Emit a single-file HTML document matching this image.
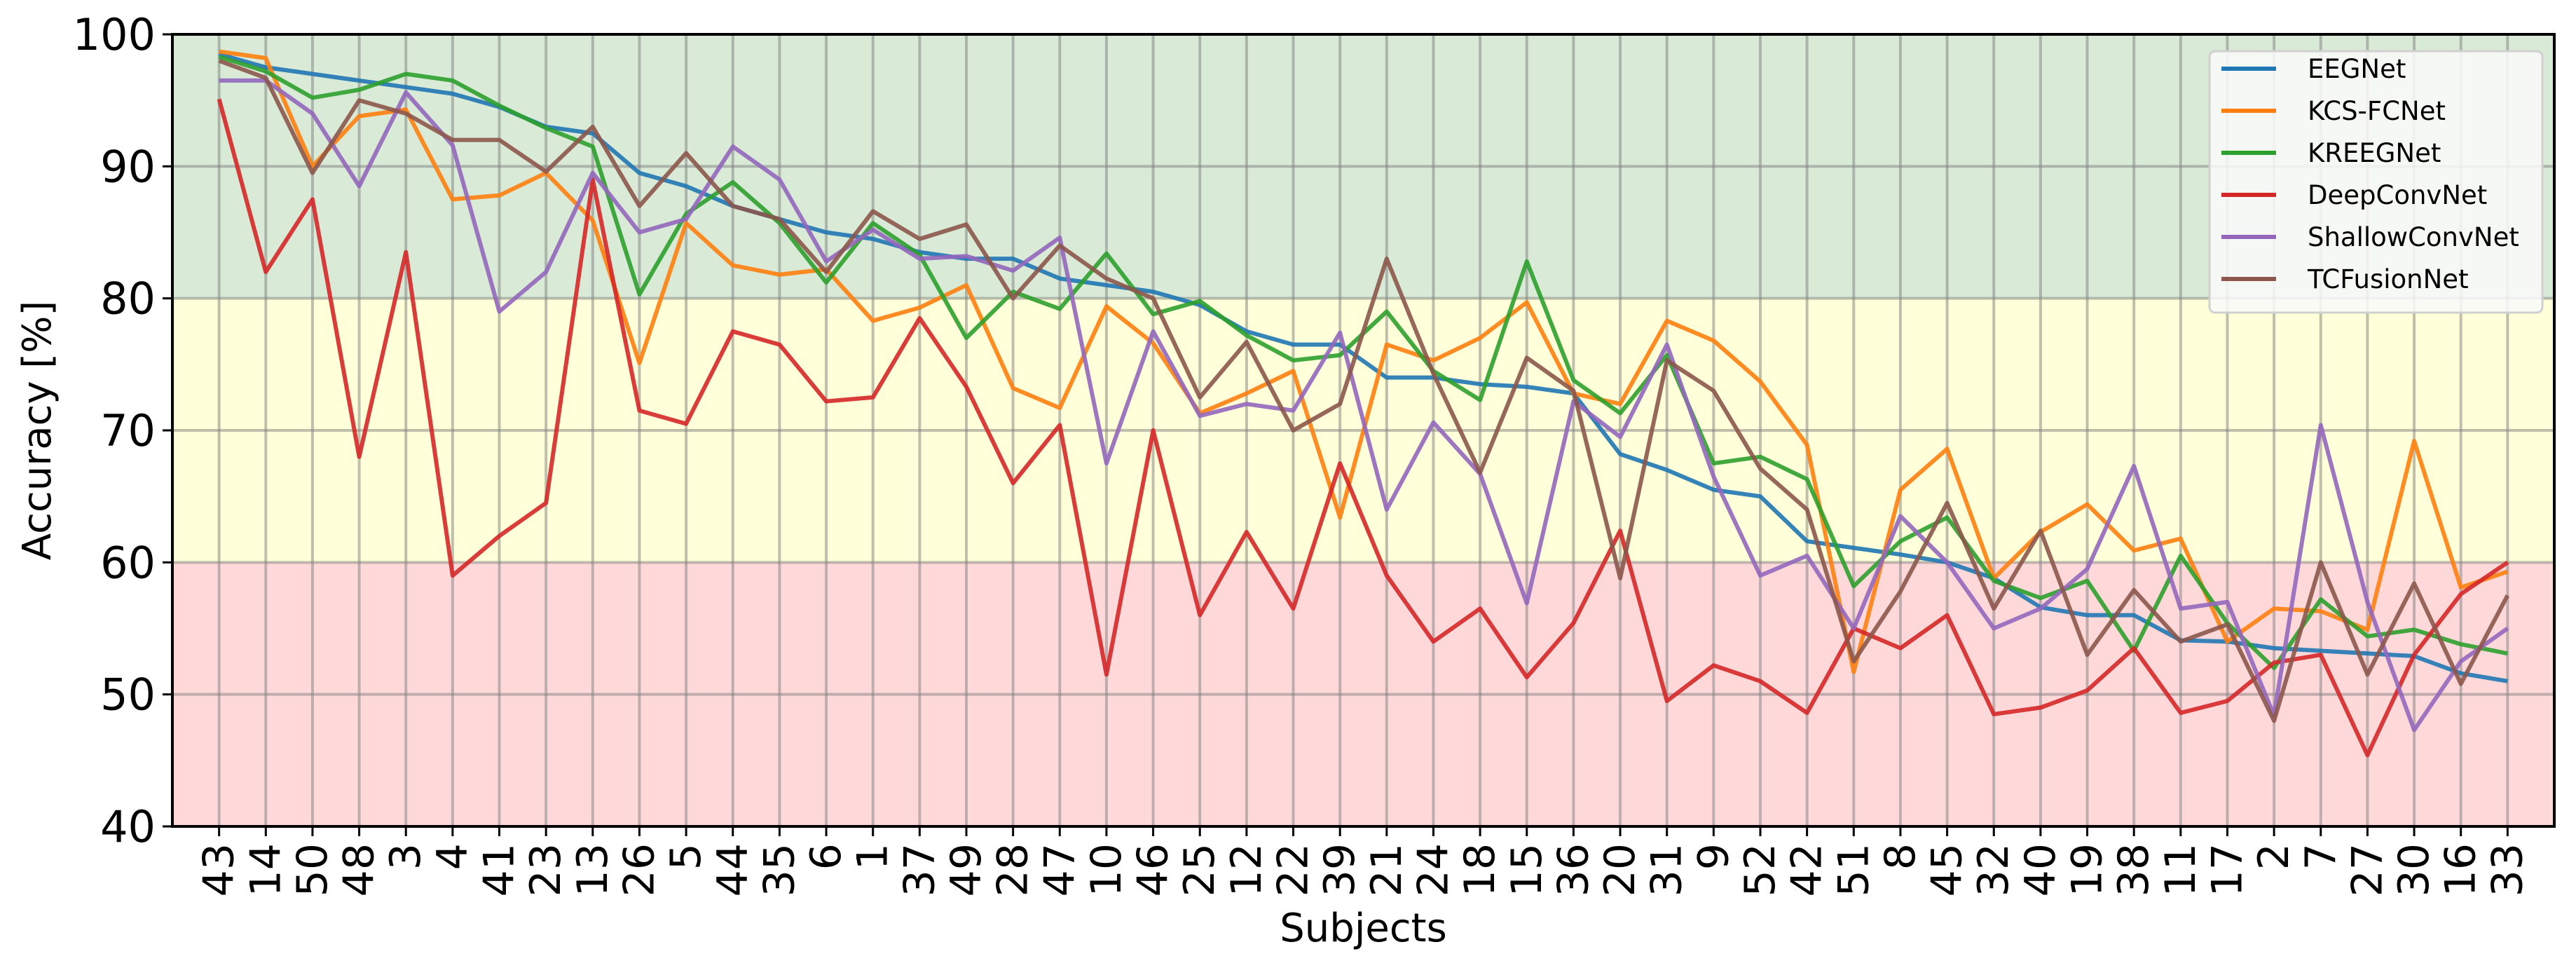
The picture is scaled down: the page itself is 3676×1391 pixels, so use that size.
<!DOCTYPE html>
<html><head><meta charset="utf-8"><style>
body{margin:0;background:#fff}
svg{display:block;font-family:"DejaVu Sans","Liberation Sans",sans-serif}
</style></head><body>
<svg id="chart" width="3676" height="1391" viewBox="0 0 3676 1391" xmlns="http://www.w3.org/2000/svg">
<g id="bands"></g><g id="grid"></g><g id="lines"></g><g id="axes"></g><g id="legend"></g>
</svg>
<script>
const subjects=[43,14,50,48,3,4,41,23,13,26,5,44,35,6,1,37,49,28,47,10,46,25,12,22,39,21,24,18,15,36,20,31,9,52,42,51,8,45,32,40,19,38,11,17,2,7,27,30,16,33];
const eegnet=[98.5,97.5,97,96.5,96,95.5,94.5,93,92.5,89.5,88.5,87,86,85,84.5,83.5,83,83,81.5,81,80.5,79.5,77.5,76.5,76.5,74,74,73.5,73.3,72.8,68.2,67,65.5,65,61.6,61.1,60.6,60,58.8,56.6,56,56,54.1,54,53.5,53.3,53.1,52.9,51.6,51];
const kcsfcnet=[98.7,98.2,90,93.8,94.3,87.5,87.8,89.5,85.9,75.1,85.7,82.5,81.8,82.2,78.3,79.3,81,73.2,71.7,79.4,76.6,71.3,72.8,74.5,63.4,76.5,75.3,77,79.7,72.8,72,78.3,76.8,73.7,68.9,51.7,65.5,68.6,58.8,62.3,64.4,60.9,61.8,54,56.5,56.3,54.9,69.2,58.1,59.3];
const kreegnet=[98.3,97.2,95.2,95.8,97,96.5,94.6,92.9,91.5,80.3,86.4,88.8,85.7,81.2,85.7,83.3,77,80.5,79.2,83.4,78.8,79.8,77.2,75.3,75.7,79,74.5,72.3,82.8,73.8,71.3,75.7,67.5,68,66.3,58.2,61.6,63.4,58.6,57.3,58.6,53.3,60.5,55.4,52,57.2,54.4,54.9,53.8,53.1];
const deepconvnet=[95.1,82,87.5,68,83.5,59,62,64.5,89,71.5,70.5,77.5,76.5,72.2,72.5,78.5,73.3,66,70.4,51.5,70,56,62.3,56.5,67.5,59,54,56.5,51.3,55.4,62.4,49.5,52.2,51,48.6,55,53.5,56,48.5,49,50.3,53.5,48.6,49.5,52.4,53,45.4,53,57.6,60];
const shallowconvnet=[96.5,96.5,94,88.5,95.6,91.6,79,82,89.5,85,86,91.5,89,82.8,85.2,83,83.2,82.1,84.6,67.5,77.5,71.1,72,71.5,77.4,64,70.6,66.7,56.9,72.2,69.5,76.5,66.5,59,60.5,55,63.5,60,55,56.5,59.5,67.3,56.5,57,48.4,70.4,57,47.3,52.5,55];
const tcfusionnet=[98,96.7,89.5,95,94,92,92,89.6,93,87,91,87,86,82,86.6,84.5,85.6,80,84,81.5,80,72.5,76.7,70,72,83,74.3,66.8,75.5,73,58.8,75.3,73,67.1,64,52.5,57.8,64.5,56.5,62.4,53,57.9,54,55.3,48,60,51.5,58.4,50.8,57.5];
const yTicks=[40,50,60,70,80,90,100];
const seriesNames=["EEGNet","KCS-FCNet","KREEGNet","DeepConvNet","ShallowConvNet","TCFusionNet"];
const seriesData=[eegnet,kcsfcnet,kreegnet,deepconvnet,shallowconvnet,tcfusionnet];
const colors=["#1f77b4","#ff7f0e","#2ca02c","#d62728","#9467bd","#8c564b"];

const L=246,R=3645,T=49,B=1179;
const xs=i=>L+(i+1)*(R-L)/51;
const ys=v=>B-(v-40)*(B-T)/60;
const NS="http://www.w3.org/2000/svg";
function mk(tag,attrs,parent){const e=document.createElementNS(NS,tag);for(const k in attrs)e.setAttribute(k,attrs[k]);parent.appendChild(e);return e;}
const bands=document.getElementById('bands'),grid=document.getElementById('grid'),lines=document.getElementById('lines'),axes=document.getElementById('axes'),legend=document.getElementById('legend');

let b=mk('rect',{x:L,y:ys(100),width:R-L,height:ys(80)-ys(100),fill:'#d9ead7'},bands);

b=mk('rect',{x:L,y:ys(80),width:R-L,height:ys(60)-ys(80),fill:'#ffffd9'},bands);

b=mk('rect',{x:L,y:ys(60),width:R-L,height:ys(40)-ys(60),fill:'#ffd9d9'},bands);


subjects.forEach((s,i)=>{
  const g=mk('line',{x1:xs(i),x2:xs(i),y1:T,y2:B,stroke:'#808080','stroke-opacity':0.5,'stroke-width':4},grid);
  
  const t=mk('line',{x1:xs(i),x2:xs(i),y1:B,y2:B+14,stroke:'#000','stroke-width':3},axes);
  
  const tx=mk('text',{x:0,y:0,'font-size':60,'text-anchor':'end','dominant-baseline':'central',transform:`translate(${xs(i)},${B+24}) rotate(-90)`},axes);
  tx.textContent=s;
  
});
yTicks.forEach(v=>{
  const g=mk('line',{x1:L,x2:R,y1:ys(v),y2:ys(v),stroke:'#808080','stroke-opacity':0.5,'stroke-width':4},grid);
  
  const t=mk('line',{x1:L-14,x2:L,y1:ys(v),y2:ys(v),stroke:'#000','stroke-width':3},axes);
  
  const tx=mk('text',{x:L-24,y:ys(v)+22,'font-size':62,'text-anchor':'end'},axes);
  tx.textContent=v;
  
});
seriesData.forEach((d,k)=>{
  const p=mk('polyline',{points:d.map((v,i)=>xs(i)+','+ys(v)).join(' '),fill:'none',stroke:colors[k],'stroke-width':6,'stroke-linejoin':'round','stroke-opacity':0.9},lines);
  
});
const fr=mk('rect',{x:L,y:T,width:R-L,height:B-T,fill:'none',stroke:'#000','stroke-width':4},axes);

let yl=mk('text',{x:0,y:0,'font-size':56,'text-anchor':'middle',transform:`translate(72,${(T+B)/2}) rotate(-90)`},axes);
yl.textContent='Accuracy [%]';

let xl=mk('text',{x:(L+R)/2,y:1343,'font-size':56,'text-anchor':'middle'},axes);
xl.textContent='Subjects';


const lb=mk('rect',{x:3153,y:73,width:475,height:373,rx:8,fill:'#fafafa','fill-opacity':0.85,stroke:'#d0d0d0','stroke-width':3},legend);

seriesNames.forEach((n,k)=>{
  const y=98+k*60;
  const g=mk('g',{},legend);
  
  mk('line',{x1:3170,x2:3248,y1:y,y2:y,stroke:colors[k],'stroke-width':6},g);
  const t=mk('text',{x:3293,y:y+13,'font-size':37},g);
  t.textContent=n;
});
</script>
</body></html>
